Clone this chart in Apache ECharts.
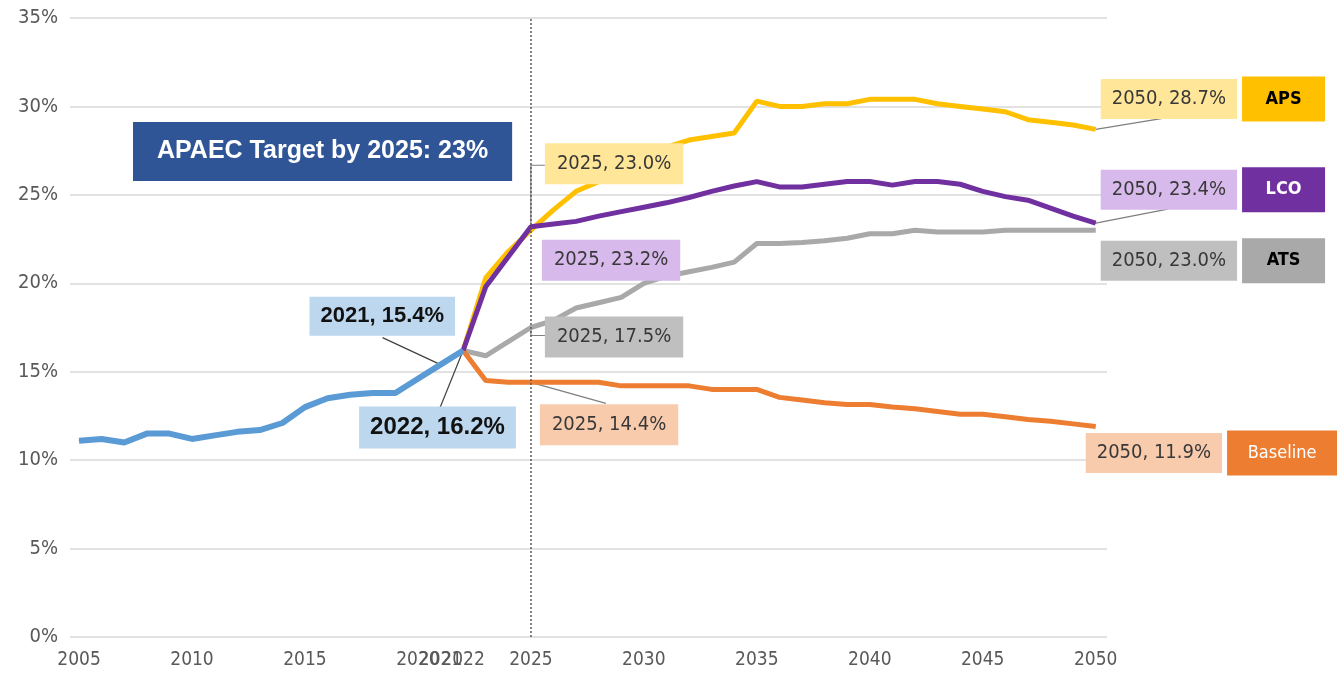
<!DOCTYPE html>
<html>
<head>
<meta charset="utf-8">
<script src="https://cdn.jsdelivr.net/npm/echarts@6/dist/echarts.min.js"></script>
<style>
  html, body { margin: 0; padding: 0; background: #fff; }
  #main { width: 1337px; height: 677px; }
</style>
</head>
<body>
<div id="main"></div>
<script>
// history, 2005-2022
var histYears = [2005, 2006, 2007, 2008, 2009, 2010, 2011, 2012, 2013, 2014, 2015, 2016, 2017, 2018, 2019, 2020, 2021, 2022];
var histValues = [11.1, 11.2, 11.0, 11.5, 11.5, 11.2, 11.4, 11.6, 11.7, 12.1, 13.0, 13.5, 13.7, 13.8, 13.8, 14.6, 15.4, 16.2];

// scenarios, 2022-2050
var scenYears = [2022, 2023, 2024, 2025, 2026, 2027, 2028, 2029, 2030, 2031, 2032, 2033, 2034, 2035, 2036, 2037, 2038, 2039, 2040,
  2041, 2042, 2043, 2044, 2045, 2046, 2047, 2048, 2049, 2050];
var apsValues = [16.2, 20.3, 21.8, 23.0, 24.15, 25.2, 25.75, 26.4, 27.2, 27.7, 28.1, 28.3, 28.5, 30.3, 30.0, 30.0, 30.15, 30.15, 30.4,
  30.4, 30.4, 30.15, 30.0, 29.85, 29.7, 29.25, 29.1, 28.95, 28.7];
var lcoValues = [16.2, 19.8, 21.5, 23.2, 23.35, 23.5, 23.8, 24.05, 24.3, 24.55, 24.85, 25.2, 25.5, 25.75, 25.45, 25.45, 25.6, 25.75, 25.75,
  25.55, 25.75, 25.75, 25.6, 25.2, 24.9, 24.7, 24.25, 23.8, 23.4];
var atsValues = [16.2, 15.9, 16.7, 17.5, 17.9, 18.6, 18.9, 19.2, 20.0, 20.4, 20.65, 20.9, 21.2, 22.25, 22.25, 22.3, 22.4, 22.55, 22.8,
  22.8, 23.0, 22.9, 22.9, 22.9, 23.0, 23.0, 23.0, 23.0, 23.0];
var baseValues = [16.2, 14.5, 14.4, 14.4, 14.4, 14.4, 14.4, 14.2, 14.2, 14.2, 14.2, 14.0, 14.0, 14.0, 13.55, 13.4, 13.25, 13.15, 13.15,
  13.0, 12.9, 12.75, 12.6, 12.6, 12.45, 12.3, 12.2, 12.05, 11.9];

var xTickLabels = [2005, 2010, 2015, 2020, 2021, 2022, 2025, 2030, 2035, 2040, 2045, 2050];
var targetText = 'APAEC Target by 2025: 23%';

var NARROW = '"Liberation Sans Narrow", "DejaVu Sans Condensed", "Arial Narrow", sans-serif';
var SANS = '"Liberation Sans", Arial, sans-serif';

// label box (top-left) offset from its point, and leader line path (relative), px
var scen = [
  { name: 'APS', values: apsValues, color: '#FFC000', bg: '#FFE699', nameColor: '#000', nameWeight: 'bold', nameW: 83,
    offs: { 2025: [14, -87], 2050: [5, -53] },
    lines: { 2025: [[0, 0], [0, -65], [14, -65]], 2050: [[0, 0], [73, -12]] } },
  { name: 'ATS', values: atsValues, color: '#A9A9A9', bg: '#BFBFBF', nameColor: '#000', nameWeight: 'bold', nameW: 83,
    offs: { 2025: [14, -11], 2050: [5, 8] },
    lines: { 2025: [[0, 0], [0, 8], [14, 8]] } },
  { name: 'Baseline', values: baseValues, color: '#ED7D31', bg: '#F8CBAD', nameColor: '#fff', nameWeight: 'normal', nameW: 110,
    offs: { 2025: [9, 22], 2050: [-10, 4] },
    lines: { 2025: [[0, 0], [75, 21]] } },
  { name: 'LCO', values: lcoValues, color: '#7030A0', bg: '#D7B9EC', nameColor: '#fff', nameWeight: 'bold', nameW: 83,
    offs: { 2025: [11, 13], 2050: [5, -56] },
    lines: { 2050: [[0, 0], [72, -14]] } }
];
var histOffs = { 2021: [-131, -68], 2022: [-104, 56] };
var histLines = { 2021: [[0, 0], [-58, -27]], 2022: [[0, 0], [-23, 57]] };

function pct(v) { return v.toFixed(1) + '%'; }

function layoutFrom(years, offs) {
  return function (params) {
    var o = offs[years[params.dataIndex]];
    if (!o) return;
    var cx = params.rect.x + params.rect.width / 2;
    var cy = params.rect.y + params.rect.height / 2;
    return { x: cx + o[0], y: cy + o[1], align: 'left', verticalAlign: 'top' };
  };
}

var series = [];

scen.forEach(function (s) {
  var data = scenYears.map(function (y, i) {
    var item = { value: [y, s.values[i]] };
    if (y === 2025) {
      item.label = {
        show: true,
        formatter: y + ', ' + pct(s.values[i]),
        backgroundColor: s.bg,
        color: '#383838',
        fontFamily: NARROW,
        fontSize: 20,
        lineHeight: 27,
        padding: [7, 12]
      };
    } else if (y === 2050) {
      item.label = {
        show: true,
        formatter: '{v|' + y + ', ' + pct(s.values[i]) + '}{g|}{n|' + s.name + '}',
        rich: {
          v: { backgroundColor: s.bg, color: '#383838', fontFamily: NARROW, fontSize: 20, height: 40, lineHeight: 40, padding: [0, 11] },
          g: { width: 5 },
          n: { backgroundColor: s.color, color: s.nameColor, fontFamily: NARROW, fontSize: 18, fontWeight: s.nameWeight,
            width: s.nameW, height: 45, lineHeight: 45, align: 'center' }
        }
      };
    }
    return item;
  });
  series.push({
    name: s.name,
    type: 'line',
    data: data,
    symbol: 'circle',
    symbolSize: 1,
    lineStyle: { color: s.color, width: 5 },
    itemStyle: { color: s.color },
    label: { show: false },
    labelLayout: layoutFrom(scenYears, s.offs),
    emphasis: { disabled: true },
    z: 2
  });
});

var histData = histYears.map(function (y, i) {
  var item = { value: [y, histValues[i]] };
  if (histOffs[y]) {
    item.label = {
      show: true,
      formatter: y + ', ' + pct(histValues[i]),
      backgroundColor: '#BDD7EE',
      color: '#111',
      fontFamily: SANS,
      fontWeight: 'bold',
      fontSize: y === 2022 ? 24 : 22,
      lineHeight: y === 2022 ? 26 : 23,
      padding: [8, 11]
    };
  }
  return item;
});

series.push({
  name: 'History',
  type: 'line',
  data: histData,
  symbol: 'circle',
  symbolSize: 1,
  lineStyle: { color: '#5B9BD5', width: 6 },
  itemStyle: { color: '#5B9BD5' },
  label: { show: false },
  labelLayout: layoutFrom(histYears, histOffs),
  emphasis: { disabled: true },
  z: 3,
  markLine: {
    silent: true,
    symbol: 'none',
    label: { show: false },
    lineStyle: { color: '#595959', type: [2, 2], width: 1.5 },
    data: [{ xAxis: 2025 }]
  }
});

var chart = echarts.init(document.getElementById('main'));
chart.setOption({
  animation: false,
  backgroundColor: '#fff',
  title: {
    text: targetText,
    left: 133,
    top: 122,
    backgroundColor: '#2F5597',
    padding: [17, 24],
    textStyle: { color: '#fff', fontFamily: SANS, fontWeight: 'bold', fontSize: 25, lineHeight: 25 }
  },
  grid: { left: 70, right: 230, top: 18, bottom: 40, outerBoundsMode: 'none' },
  xAxis: {
    type: 'value',
    min: 2004.6,
    max: 2050.5,
    axisLine: { show: false },
    axisTick: { show: false },
    splitLine: { show: false },
    axisLabel: {
      customValues: xTickLabels,
      formatter: function (v) { return String(v); },
      color: '#595959',
      fontFamily: NARROW,
      fontSize: 19,
      margin: 14
    }
  },
  yAxis: {
    type: 'value',
    min: 0,
    max: 35,
    interval: 5,
    axisLine: { show: false },
    axisTick: { show: false },
    splitLine: { lineStyle: { color: '#D9D9D9', width: 1.5 } },
    axisLabel: {
      formatter: '{value}%',
      color: '#595959',
      fontFamily: NARROW,
      fontSize: 20,
      margin: 12
    }
  },
  series: series
});

// leader lines, anchored on the data points through the chart's own scales
var leaders = [];
function addLeaders(years, values, lines, color) {
  Object.keys(lines).forEach(function (k) {
    var y = +k;
    var p = chart.convertToPixel({ gridIndex: 0 }, [y, values[years.indexOf(y)]]);
    leaders.push({
      type: 'polyline',
      silent: true,
      z: 1,
      shape: { points: lines[k].map(function (d) { return [p[0] + d[0], p[1] + d[1]]; }) },
      style: { stroke: color, lineWidth: 1.2, fill: null }
    });
  });
}
scen.forEach(function (s) { addLeaders(scenYears, s.values, s.lines, '#7F7F7F'); });
addLeaders(histYears, histValues, histLines, '#404040');
chart.setOption({ graphic: leaders });
</script>
</body>
</html>
